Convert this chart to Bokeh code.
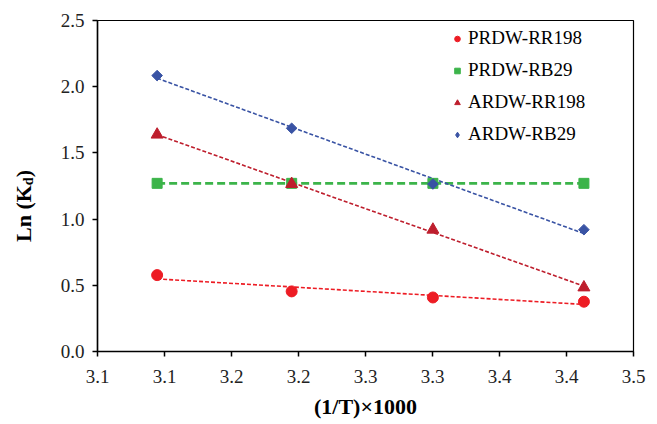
import numpy as np
from bokeh.plotting import figure
from bokeh.layouts import row
from bokeh.models import Legend, LegendItem, FixedTicker, CustomJSTickFormatter, Div
from bokeh.embed import file_html
from bokeh.resources import INLINE

# ---- data ----
inv_T = [3.0945, 3.1949, 3.3003, 3.4130]
series_names = ["PRDW-RR198", "PRDW-RB29", "ARDW-RR198", "ARDW-RB29"]
prdw_rr198 = [0.577, 0.454, 0.408, 0.376]
prdw_rb29 = [1.270, 1.270, 1.270, 1.270]
ardw_rr198 = [1.638, 1.265, 0.920, 0.484]
ardw_rb29 = [2.084, 1.686, 1.265, 0.920]
x_ticks = [3.05, 3.10, 3.15, 3.20, 3.25, 3.30, 3.35, 3.40, 3.45]
x_tick_labels = ["3.1", "3.1", "3.2", "3.2", "3.3", "3.3", "3.4", "3.4", "3.5"]
y_ticks = [0.0, 0.5, 1.0, 1.5, 2.0, 2.5]
y_tick_labels = ["0.0", "0.5", "1.0", "1.5", "2.0", "2.5"]
x_title = "(1/T)×1000"
y_title_main, y_title_sub, y_title_end = "Ln (K", "d", ")"

FONT = "Liberation Serif"
X0, X1 = 3.05, 3.45
Y0, Y1 = 0.0, 2.5
TITLE_W = 40

p = figure(width=657 - TITLE_W, height=424, x_range=(X0, X1), y_range=(Y0, Y1),
           output_backend="svg", toolbar_location=None,
           min_border_left=97 - TITLE_W, min_border_right=24, min_border_top=20,
           min_border_bottom=73)
p.grid.visible = False
p.outline_line_color = "black"
p.outline_line_width = 1.2
p.background_fill_color = "white"
p.border_fill_color = "white"

fmt_code = """
let best = 0; let d = Infinity;
for (let i = 0; i < tk.length; i++) {
  const e = Math.abs(tk[i] - tick);
  if (e < d) { d = e; best = i; }
}
return lb[best];
"""
p.xaxis.ticker = FixedTicker(ticks=x_ticks)
p.xaxis.formatter = CustomJSTickFormatter(args=dict(tk=x_ticks, lb=x_tick_labels), code=fmt_code)
p.yaxis.ticker = FixedTicker(ticks=y_ticks)
p.yaxis.formatter = CustomJSTickFormatter(args=dict(tk=y_ticks, lb=y_tick_labels), code=fmt_code)

for ax in (p.xaxis, p.yaxis):
    ax.axis_line_color = "black"
    ax.axis_line_width = 1.5
    ax.major_tick_line_color = "black"
    ax.major_tick_line_width = 1.5
    ax.major_tick_in = 0
    ax.major_tick_out = 5
    ax.minor_tick_line_color = None
    ax.major_label_text_font = FONT
    ax.major_label_text_font_size = "19px"
    ax.major_label_text_color = "#222222"

p.xaxis.major_label_standoff = 13
p.yaxis.major_label_standoff = 8
p.xaxis.axis_label = x_title
p.xaxis.axis_label_text_font = FONT
p.xaxis.axis_label_text_font_style = "bold"
p.xaxis.axis_label_text_font_size = "22px"
p.xaxis.axis_label_text_color = "black"
p.xaxis.axis_label_standoff = 8

series = [
    (prdw_rr198, "circle", "#ED1C24", 1.6, "4 2", 11, 0.0, "circle", 9),
    (prdw_rb29, "square", "#3CB44A", 2.8, "8 4", 10, 0.0, "square", 8),
    (ardw_rr198, "triangle", "#BE1E2D", 1.6, "4 2", 12, 0.0, "triangle", 10),
    (ardw_rb29, "square", "#3953A4", 1.6, "4 2", 7.5, np.pi / 4, "diamond", 11),
]

xs = np.array(inv_T)
for vals, marker, col, lw, dash, size, ang, lmarker, lsize in series:
    slope, icpt = np.polyfit(xs, np.array(vals), 1)
    xl = [xs.min(), xs.max()]
    yl = [slope * xl[0] + icpt, slope * xl[1] + icpt]
    p.line(xl, yl, line_color=col, line_width=lw, line_dash=dash)

items = []
for name, (vals, marker, col, lw, dash, size, ang, lmarker, lsize) in zip(series_names, series):
    p.scatter(inv_T, vals, marker=marker, size=size, angle=ang,
              fill_color=col, line_color=col, line_width=1)
    proxy = p.scatter(x=[np.nan], y=[np.nan], marker=lmarker, size=lsize,
                      fill_color=col, line_color=col, line_width=1)
    items.append(LegendItem(label=name, renderers=[proxy]))

legend = Legend(items=items, location=(353, 206), orientation="vertical",
                glyph_width=14, glyph_height=21, label_height=21, label_standoff=4,
                spacing=10, padding=0, margin=0,
                label_text_font=FONT, label_text_font_size="19px", label_text_color="black",
                border_line_color=None, background_fill_alpha=0)
p.add_layout(legend)

# rotated y-axis title with a real subscript
ytitle_html = (
    f'<div style="width:{TITLE_W}px;height:424px;display:flex;align-items:center;'
    'justify-content:center;background:white;">'
    '<span style="writing-mode:vertical-rl;transform:rotate(180deg);'
    f"font-family:'{FONT}',serif;font-weight:bold;font-size:22px;color:black;"
    'white-space:nowrap;margin-bottom:12px;margin-left:10px;line-height:1;">'
    f'{y_title_main}<sub style="font-size:14px;">{y_title_sub}</sub>{y_title_end}</span></div>'
)
ytitle = Div(text=ytitle_html, width=TITLE_W, height=424, margin=0)

layout = row(ytitle, p, spacing=0)
open("out.html", "w").write(file_html(layout, INLINE))
